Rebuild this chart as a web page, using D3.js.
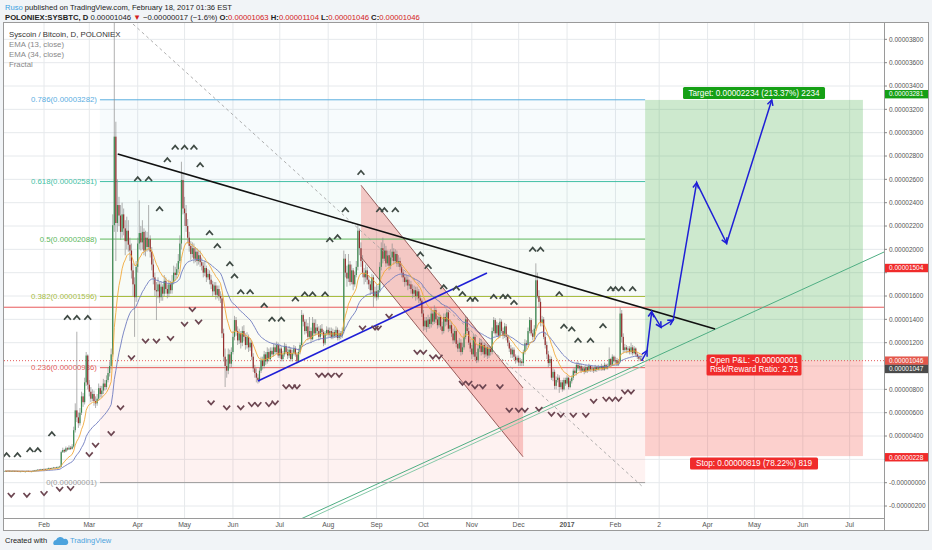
<!DOCTYPE html>
<html>
<head>
<meta charset="utf-8">
<title>SYSBTC</title>
<script src="https://cdnjs.cloudflare.com/ajax/libs/d3/7.8.5/d3.min.js"></script>
<style>
  html, body { margin: 0; padding: 0; background: #f1f4f7; }
  svg { display: block; font-family: "Liberation Sans", Arial, sans-serif; }
</style>
</head>
<body>
<div id="chart"></div>
<script>
// all prices in satoshi (1e-8 BTC), one daily candle per entry from 2016-01-07
const firstDay = Date.UTC(2016, 0, 7);

const closes = [100,98,102,97,99,101,96,100,98,95,
97,99,94,96,100,98,95,97,103,105,
108,112,110,115,113,118,116,120,124,122,
126,130,128,132,135,138,
262,
280,268,295,285,300,290,310,
450,620,
560,510,600,
740,690,860,1090,840,
780,720,760,700,680,720,810,760,
790,850,820,880,940,
1000,1100,
2207,2966,2226,
2380,2290,2150,2300,2180,2070,
2160,2040,1990,
1820,1700,1590,
1850,2050,2140,
2060,2150,1990,2100,2020,2090,1980,
1870,1760,1650,1640,
1700,1590,1680,1620,1730,1660,
1620,1700,1650,1720,1800,
1780,1830,1900,2050,
2594,2350,2310,
2200,2100,2030,
1960,2010,1920,1980,1900,1950,1890,
1860,1800,1840,1760,1790,1740,
1700,1640,1690,1610,1660,1600,1580,
1280,1080,1000,
960,1100,1020,1120,
1250,1394,1300,1220,1280,1200,
1300,1250,1180,1250,1160,1200,
1080,980,940,900,880,
960,1050,1000,1100,1040,1120,1060,1130,
1100,1160,1120,1180,1090,1150,1060,1100,1170,1120,
1090,1140,1060,1110,1150,1100,1040,1120,1180,
1437,1380,1300,
1340,1250,1300,1230,1370,1280,1330,1300,
1250,1320,1290,1195,1280,1310,1270,1300,
1250,1290,1260,1310,1240,1280,1260,1300,
1920,1800,1750,1870,
1720,1820,1700,1780,1850,
2160,2010,1900,
1800,1760,1820,1740,
1700,1650,1760,1600,1640,1590,1650,
1850,2010,1920,1990,
1880,1950,1860,1930,
1980,1900,1960,1880,1900,1850,
1800,1760,1720,1740,1690,1700,1660,
1620,1650,1600,1640,1580,1560,
1450,1340,1390,1335,1400,1360,
1450,1380,1480,1400,1350,1420,1340,
1300,1420,1380,1460,1320,1350,
1280,1220,1300,1190,1150,1200,1120,1160,
1250,1400,1300,1200,1150,
1100,1250,1080,1050,1150,1200,
1120,1180,1100,1160,1090,1150,1120,
1300,1394,1280,1350,1260,1380,
1300,1260,1340,1250,1200,1150,
1100,1140,1080,1050,1070,1030,1040,
1025,1120,1195,1180,
1300,1394,1280,1250,1320,
1735,1600,1550,1370,
1400,1250,1180,
1100,1025,1060,
900,950,830,880,900,820,
860,800,880,850,900,820,870,
900,960,940,1010,980,1000,
960,980,950,990,960,1000,970,
980,960,990,970,990,980,
1000,970,1010,980,1000,
1060,1010,1080,1040,1050,
1020,1040,1450,
1250,1137,1160,1140,
1150,1120,1160,1110,1150,
1100,1080,1063,1063,1046];

const highs = [104,103,105,104,102,104,103,103,102,101,
100,102,101,99,103,104,100,100,106,109,
112,116,115,119,118,122,121,125,130,127,
131,135,133,137,140,145,
275,
300,290,310,305,320,315,330,
480,680,
1294,600,640,
780,770,900,1120,1100,
880,820,800,790,740,760,850,830,
830,890,880,920,990,
1040,1150,
2300,3980,3094,
2600,2450,2380,2400,2350,2250,
2280,2250,2100,
2050,1880,1760,
1900,2100,2420,
2200,2250,2180,2160,2150,2380,2120,
2020,1920,1800,1720,
1760,1720,1720,1700,1780,1760,
1700,1740,1730,1780,1860,
1850,1880,1960,2120,
2751,2650,2450,
2380,2260,2150,
2070,2060,2050,2020,2010,1990,1990,
1930,1890,1900,1860,1830,1820,
1780,1730,1720,1720,1690,1690,1640,
1620,1320,1150,
1060,1150,1140,1160,
1300,1430,1420,1340,1320,1300,
1340,1350,1280,1290,1270,1240,
1220,1110,1010,980,930,
990,1080,1080,1130,1120,1160,1150,1160,
1160,1190,1190,1210,1200,1180,1170,1130,1200,1190,
1150,1170,1160,1140,1180,1170,1120,1150,1200,
1480,1450,1400,
1400,1370,1420,1330,1420,1400,1400,1360,
1340,1350,1360,1310,1300,1340,1330,1330,
1330,1320,1310,1340,1330,1310,1300,1330,
1990,1960,1860,1960,
1900,1870,1840,1810,1900,
2210,2180,2060,
1950,1840,1870,1850,
1780,1730,1790,1780,1680,1700,1690,
1890,2060,2100,2050,
2030,1990,1990,2000,
2050,2010,2000,1990,1950,1930,
1880,1830,1790,1780,1770,1740,1730,
1700,1690,1680,1680,1660,1610,
1580,1480,1420,1420,1440,1420,
1500,1480,1520,1500,1430,1460,1440,
1380,1450,1450,1490,1480,1400,
1380,1320,1340,1320,1220,1240,1230,1200,
1280,1430,1420,1330,1230,
1180,1280,1270,1120,1180,1240,
1230,1210,1200,1190,1180,1180,1170,
1330,1420,1410,1380,1370,1410,
1400,1330,1370,1360,1270,1220,
1180,1160,1160,1100,1090,1090,1070,
1060,1140,1230,1220,
1330,1420,1410,1310,1350,
1880,1800,1650,1580,
1430,1420,1290,
1210,1130,1090,
1080,980,970,910,930,920,
880,880,900,900,920,910,890,
920,980,990,1030,1040,1020,
1020,1000,1000,1010,1000,1020,1010,
1000,990,1010,1000,1010,1000,
1020,1010,1030,1020,1020,
1160,1070,1100,1090,1080,
1070,1060,1505,
1480,1280,1190,1180,
1170,1170,1200,1180,1170,
1160,1120,1100,1090,1104];

const lows = [97,95,96,95,95,97,94,95,96,92,
93,95,92,92,94,96,93,93,96,101,
103,105,107,108,110,111,113,114,118,118,
119,123,124,125,129,131,
135,
255,255,262,275,280,280,285,
300,430,
520,470,490,
580,650,670,830,800,
740,690,700,660,640,660,700,730,
730,760,790,800,860,
910,970,
1080,2150,1900,
2150,2200,2080,2100,2120,1950,
2000,1980,1900,
1750,1600,1250,
1550,1800,2000,
1990,2000,1950,1940,1980,1990,1930,
1820,1700,1600,1394,
1580,1540,1560,1560,1600,1620,
1580,1590,1620,1620,1700,
1730,1750,1800,1880,
2000,2300,2200,
2150,2050,1980,
1910,1930,1880,1890,1860,1870,1850,
1820,1760,1770,1720,1740,1700,
1660,1600,1610,1570,1580,1560,1540,
1240,1040,820,
900,930,980,990,
1100,1220,1260,1180,1190,1150,
1170,1210,1140,1150,1120,1130,
1050,950,900,860,850,
860,940,970,980,1010,1020,1040,1040,
1080,1080,1100,1100,1070,1070,1040,1040,1080,1100,
1060,1070,1040,1040,1090,1080,1020,1030,1100,
1160,1340,1270,
1280,1220,1230,1200,1220,1260,1260,1270,
1220,1230,1260,1170,1180,1260,1250,1250,
1230,1230,1240,1240,1220,1220,1230,1240,
1280,1760,1680,1720,
1690,1700,1650,1680,1760,
1820,1950,1850,
1760,1700,1720,1700,
1660,1610,1620,1505,1580,1560,1570,
1630,1820,1880,1900,
1850,1860,1820,1830,
1900,1870,1880,1850,1850,1820,
1760,1720,1680,1690,1650,1660,1620,
1580,1590,1560,1570,1540,1520,
1420,1300,1310,1290,1320,1320,
1330,1350,1360,1370,1320,1330,1310,
1270,1280,1340,1350,1290,1300,
1250,1190,1200,1160,1120,1120,1090,1100,
1140,1230,1280,1180,1120,
1060,1080,1050,1025,1030,1120,
1090,1100,1070,1080,1060,1070,1090,
1100,1280,1260,1250,1240,1240,
1280,1230,1240,1220,1170,1120,
1070,1070,1050,1020,1030,1000,1000,
1000,1000,1100,1140,
1160,1280,1260,1220,1230,
1300,1580,1500,1340,
1340,1230,1150,
1060,990,1000,
880,870,800,800,860,770,
800,780,790,830,840,800,810,
850,880,920,920,960,960,
940,950,930,940,940,950,950,
950,940,950,950,960,960,
960,960,960,970,970,
990,1000,1000,1020,1020,
1000,1000,1030,
1200,1110,1120,1110,
1110,1100,1100,1090,1100,
1080,1060,1040,1050,1046];

const priceTicks = [-200, 0, 200, 400, 600, 800, 1000, 1200, 1400, 1600, 1800, 2000,
  2200, 2400, 2600, 2800, 3000, 3200, 3400, 3600, 3800];
const monthTicks = ["2016-02-01", "2016-03-01", "2016-04-01", "2016-05-01", "2016-06-01", "2016-07-01",
  "2016-08-01", "2016-09-01", "2016-10-01", "2016-11-01", "2016-12-01", "2017-01-01", "2017-02-01",
  "2017-03-01", "2017-04-01", "2017-05-01", "2017-06-01", "2017-07-01"];
const monthLabels = ["Feb", "Mar", "Apr", "May", "Jun", "Jul", "Aug", "Sep", "Oct", "Nov", "Dec",
  "2017", "Feb", "2", "Apr", "May", "Jun", "Jul"];

const fibLevels = ["0", "0.236", "0.382", "0.5", "0.618", "0.786"];
const fibPrices = [1, 986, 1596, 2088, 2581, 3282];
const fibColors = ["#9e9e9e", "#e35d5b", "#a7bd3f", "#5cb85c", "#43bfa5", "#5aaedf"];
const fibSpan = [60.8, 410];              // day offsets

// fractal marks: [day offset, price]
const upFractals = [[1,237],[8,237],[16,280],[21,280],[30,417],[40,1414],[46,1414],[53,1414],
  [85,2603],[92,2603],[99,2346],[104,2766],[109,2873],[115,2873],[121,2873],[125,2723],[131,2140],
  [136,2029],[144,1874],[147,1771],[151,1634],[157,1634],[166,1519],[171,1400],[177,1400],[186,1572],
  [192,1615],[197,1615],[205,1615],[208,2080],[213,2106],[218,2337],[228,2657],[240,2337],[243,2337],
  [250,2337],[266,1958],[271,1851],[281,1677],[289,1666],[293,1617],[298,1570],[301,1570],[313,1594],
  [319,1594],[322,1594],[326,1543],[338,1999],[343,1999],[355,1617],[358,1339],[363,1315],[367,1219],
  [375,1219],[383,1343],[388,1660],[391,1660],[395,1660],[402,1660]];
const downFractals = [[4,-105],[14,-105],[25,-91],[35,-54],[42,-48],[54,243],[58,323],[68,423],
  [74,643],[81,1073],[90,1216],[97,1216],[106,1238],[115,1360],[120,1486],[124,1380],[132,686],
  [142,643],[151,643],[158,672],[162,672],[169,672],[173,686],[180,823],[184,823],[187,823],[201,923],
  [205,923],[209,923],[214,923],[229,1328],[237,1328],[239,1328],[246,1429],[264,1120],[268,1120],
  [274,1080],[278,1080],[293,855],[297,855],[301,825],[306,825],[317,825],[323,623],[329,623],[333,623],
  [342,632],[350,589],[356,580],[364,580],[372,580],[377,700],[385,717],[389,717],[393,717],[397,780],
  [401,780]];

// drawings: [day offset, price]
const blackTrend = [[72.2, 2817], [454.8, 1317]];
const blueTrend = [[162, 872], [308.7, 1797]];
const dashedTrend = [[82, 3931], [408.6, -37]];
const greenTrend = [[188, -320], [563, 1977]];
const greenTrend2 = [[188, -350], [410, 1010]];
const channelTop = [[228, 2550], [331.8, 812]];
const channelBottom = [[228, 1934], [331.8, 222]];
const forecastPath = [[407.8, 1043], [411.2, 1131], [414.2, 1466], [420.2, 1332], [428, 1394],
  [443, 2571], [462.2, 2052], [491.1, 3280]];

const resistance = 1504;
const lastPrice = 1046;
const position = { from: 410, to: 549.5, entry: 1047, target: 3281, stop: 228 };

const badgeValues = [3281, 1504, 1046, 1047, 228];
const badgeAt = [3330, 1840, 1046, 975, 218];
const badgeColors = ["#159f15", "#f02b2b", "#e4584c", "#4a4a4a", "#f02b2b"];

const width = 932;
const height = 550;
const plot = { left: 4, right: 884, top: 23, bottom: 518 };

const day = n => new Date(firstDay + n * 864e5);
const fmt = v => (v / 1e8).toFixed(8);
const parse = d3.utcParse("%Y-%m-%d");

const x = d3.scaleUtc().domain([day(0), day(563)]).range([5, 884]);
const y = d3.scaleLinear().domain([-302.6, 3931.6]).range([518, 24]);
const pt = d => [x(day(d[0])), y(d[1])];

const svg = d3.select("#chart")
    .append("svg")
    .attr("width", width)
    .attr("height", height);

svg.append("defs").append("clipPath").attr("id", "clip")
    .append("rect")
    .attr("x", plot.left).attr("y", plot.top)
    .attr("width", plot.right - plot.left).attr("height", plot.bottom - plot.top);

svg.append("rect").attr("x", 0).attr("y", 0).attr("width", width).attr("height", height).attr("fill", "#f1f4f7");
svg.append("rect")
    .attr("x", 3.5).attr("y", 22.5).attr("width", 925).attr("height", 508)
    .attr("fill", "#fff").attr("stroke", "#9a9a9a");

const chart = svg.append("g").attr("clip-path", "url(#clip)");

function drawGrid() {
    chart.selectAll("line.hgrid")
        .data(priceTicks)
        .join("line")
        .attr("class", "hgrid")
        .attr("x1", plot.left).attr("x2", plot.right)
        .attr("y1", d => y(d)).attr("y2", d => y(d))
        .attr("stroke", "#e6e9ec");
    chart.selectAll("line.vgrid")
        .data(monthTicks)
        .join("line")
        .attr("class", "vgrid")
        .attr("x1", d => x(parse(d))).attr("x2", d => x(parse(d)))
        .attr("y1", plot.top).attr("y2", plot.bottom)
        .attr("stroke", "#e6e9ec");
}

function drawFills() {
    const x0 = x(day(fibSpan[0]));
    const x1 = x(day(fibSpan[1]));
    for (let i = 0; i < fibPrices.length - 1; i++) {
        chart.append("rect")
            .attr("x", x0).attr("width", x1 - x0)
            .attr("y", y(fibPrices[i + 1]))
            .attr("height", y(fibPrices[i]) - y(fibPrices[i + 1]))
            .attr("fill", i === 0 ? "#f44336" : fibColors[i + 1])
            .attr("opacity", i === 0 ? 0.07 : 0.05);
    }

    const poly = [pt(channelTop[0]), pt(channelTop[1]), pt(channelBottom[1]), pt(channelBottom[0])];
    chart.append("path")
        .attr("d", d3.line()(poly) + "Z")
        .attr("fill", "rgba(239,83,80,0.3)");

    const px0 = x(day(position.from));
    const px1 = x(day(position.to));
    chart.append("rect")
        .attr("x", px0).attr("width", px1 - px0)
        .attr("y", y(position.target)).attr("height", y(position.entry) - y(position.target))
        .attr("fill", "rgba(76,175,80,0.28)");
    chart.append("rect")
        .attr("x", px0).attr("width", px1 - px0)
        .attr("y", y(position.entry)).attr("height", y(position.stop) - y(position.entry))
        .attr("fill", "rgba(244,67,54,0.25)");
}

function drawLevels() {
    const x0 = x(day(fibSpan[0]));
    const x1 = x(day(fibSpan[1]));
    fibPrices.forEach((p, i) => {
        chart.append("line")
            .attr("x1", x0).attr("x2", x1)
            .attr("y1", y(p)).attr("y2", y(p))
            .attr("stroke", fibColors[i]);
        chart.append("text")
            .attr("x", x0 - 3).attr("y", y(p) + 2.6)
            .attr("text-anchor", "end")
            .attr("font-size", 7.8)
            .attr("fill", fibColors[i])
            .text(fibLevels[i] + "(" + fmt(p) + ")");
    });

    chart.append("line")
        .attr("x1", plot.left).attr("x2", plot.right)
        .attr("y1", y(resistance)).attr("y2", y(resistance))
        .attr("stroke", "#e8595a");
    chart.append("line")
        .attr("x1", plot.left).attr("x2", plot.right)
        .attr("y1", y(lastPrice)).attr("y2", y(lastPrice))
        .attr("stroke", "#e45c5c").attr("stroke-dasharray", "1,2");
}

function ema(values, n) {
    const k = 2 / (n + 1);
    const out = [];
    values.forEach((v, i) => out.push(i === 0 ? v : v * k + out[i - 1] * (1 - k)));
    return out;
}

function drawCandles() {
    const candles = closes.map((c, i) => ({
        date: day(i),
        o: i === 0 ? c : closes[i - 1],
        h: highs[i], l: lows[i], c: c
    }));

    chart.selectAll("line.wick")
        .data(candles)
        .join("line")
        .attr("class", "wick")
        .attr("x1", d => x(d.date)).attr("x2", d => x(d.date))
        .attr("y1", d => y(d.h)).attr("y2", d => y(d.l))
        .attr("stroke", "#8e8e8e").attr("stroke-width", 0.7);

    chart.selectAll("rect.body")
        .data(candles)
        .join("rect")
        .attr("class", "body")
        .attr("x", d => x(d.date) - 0.6)
        .attr("width", 1.2)
        .attr("y", d => y(Math.max(d.o, d.c)))
        .attr("height", d => Math.max(0.8, Math.abs(y(d.o) - y(d.c))))
        .attr("fill", d => d.c >= d.o ? "#3a8a50" : "#962c2c");

    const line = d3.line().x((d, i) => x(day(i))).y(d => y(d));
    chart.append("path").attr("d", line(ema(closes, 34)))
        .attr("fill", "none").attr("stroke", "#6f7cc0").attr("stroke-width", 0.9);
    chart.append("path").attr("d", line(ema(closes, 13)))
        .attr("fill", "none").attr("stroke", "#f2a93b").attr("stroke-width", 0.9);
}

function segment(points, color, w, dash) {
    chart.append("path")
        .attr("d", d3.line()(points.map(pt)))
        .attr("fill", "none")
        .attr("stroke", color)
        .attr("stroke-width", w)
        .attr("stroke-dasharray", dash || null);
}

function drawDrawings() {
    segment(channelTop, "#7d3b3b", 0.8);
    segment(channelBottom, "#7d3b3b", 0.8);
    segment(dashedTrend, "#9a9a9a", 0.8, "3,3");
    segment(greenTrend2, "#86c9a8", 1);
    segment(greenTrend, "#4fae83", 1);
    segment(blackTrend, "#111", 1.6);
    segment(blueTrend, "#1f1fd6", 1.5);

    const pts = forecastPath.map(pt);
    chart.append("path")
        .attr("d", d3.line()(pts))
        .attr("fill", "none").attr("stroke", "#1f1fd6").attr("stroke-width", 1.5);
    for (let i = 1; i < pts.length; i++) {
        const p0 = pts[i - 1], p1 = pts[i];
        const a = Math.atan2(p1[1] - p0[1], p1[0] - p0[0]);
        const head = [
            [p1[0] - 6 * Math.cos(a - 0.5), p1[1] - 6 * Math.sin(a - 0.5)],
            p1,
            [p1[0] - 6 * Math.cos(a + 0.5), p1[1] - 6 * Math.sin(a + 0.5)]
        ];
        chart.append("path").attr("d", d3.line()(head))
            .attr("fill", "none").attr("stroke", "#1f1fd6").attr("stroke-width", 1.5);
    }
}

function drawFractals() {
    chart.selectAll("path.up")
        .data(upFractals)
        .join("path")
        .attr("class", "up")
        .attr("d", "M-3.4,2L0,-1.9L3.4,2")
        .attr("transform", d => `translate(${x(day(d[0]))},${y(d[1])})`)
        .attr("fill", "none").attr("stroke", "#3f4a44").attr("stroke-width", 1.7);
    chart.selectAll("path.down")
        .data(downFractals)
        .join("path")
        .attr("class", "down")
        .attr("d", "M-3.4,-2L0,1.9L3.4,-2")
        .attr("transform", d => `translate(${x(day(d[0]))},${y(d[1])})`)
        .attr("fill", "none").attr("stroke", "#6c4651").attr("stroke-width", 1.7);
}

function label(cx, cy, lines, fill, w) {
    const h = lines.length * 9 + 3;
    chart.append("rect")
        .attr("x", cx - w / 2).attr("y", cy - h / 2)
        .attr("width", w).attr("height", h)
        .attr("rx", 1.5).attr("fill", fill);
    lines.forEach((t, i) => {
        chart.append("text")
            .attr("x", cx).attr("y", cy - h / 2 + 8.6 + i * 9)
            .attr("text-anchor", "middle")
            .attr("font-size", 8.2).attr("fill", "#fff")
            .text(t);
    });
}

function drawPositionLabels() {
    const cx = (x(day(position.from)) + x(day(position.to))) / 2;
    const gain = position.target - position.entry;
    const risk = position.entry - position.stop;
    label(cx, y(position.target) - 7, [
        "Target: " + fmt(gain) + " (" + (gain / position.entry * 100).toFixed(2) + "%) " + gain
    ], "#15a015", 142);
    label(cx, y(position.stop) + 7.5, [
        "Stop: " + fmt(risk) + " (" + (risk / position.entry * 100).toFixed(2) + "%) " + risk
    ], "#f02b2b", 128);
    label(cx, y(position.entry) + 4.5, [
        "Open P&L: -" + fmt(position.entry - lastPrice),
        "Risk/Reward Ratio: " + (gain / risk).toFixed(2)
    ], "#f02b2b", 95);
}

function drawAxes() {
    svg.append("line")
        .attr("x1", plot.right + 0.5).attr("x2", plot.right + 0.5)
        .attr("y1", 22.5).attr("y2", 530.5).attr("stroke", "#9a9a9a");
    svg.append("line")
        .attr("x1", 3.5).attr("x2", plot.right + 0.5)
        .attr("y1", plot.bottom + 0.5).attr("y2", plot.bottom + 0.5).attr("stroke", "#9a9a9a");

    // tick labels hidden behind a badge are skipped, like the original
    const badgeY = badgeAt.map(v => y(v));
    const ticks = svg.append("g");
    priceTicks.forEach(v => {
        const ty = y(v);
        ticks.append("line")
            .attr("x1", plot.right).attr("x2", plot.right + 3)
            .attr("y1", ty).attr("y2", ty).attr("stroke", "#888");
        if (badgeY.some(b => Math.abs(b - ty) < 7.5)) return;
        ticks.append("text")
            .attr("x", plot.right + 5).attr("y", ty + 2.3)
            .attr("font-size", 6.5).attr("fill", "#555")
            .text((v <= 0 ? "-" : "") + fmt(Math.abs(v)));
    });

    badgeValues.forEach((v, i) => {
        const cy = badgeY[i];
        svg.append("rect")
            .attr("x", plot.right + 1).attr("y", cy - 4.2)
            .attr("width", 43).attr("height", 8.4)
            .attr("fill", badgeColors[i]);
        svg.append("text")
            .attr("x", plot.right + 5).attr("y", cy + 2.3)
            .attr("font-size", 6.5).attr("fill", "#fff")
            .text(fmt(v));
    });

    monthTicks.forEach((d, i) => {
        svg.append("text")
            .attr("x", x(parse(d))).attr("y", 526.5)
            .attr("text-anchor", "middle")
            .attr("font-size", 6.8)
            .attr("font-weight", monthLabels[i] === "2017" ? "bold" : null)
            .attr("fill", "#555")
            .text(monthLabels[i]);
    });
}

function drawHeader() {
    const t1 = svg.append("text").attr("x", 5).attr("y", 9.5).attr("font-size", 7.6);
    t1.append("tspan").attr("fill", "#3a9fe0").text("Ruso");
    t1.append("tspan").attr("fill", "#222").text(" published on TradingView.com, February 18, 2017 01:36 EST");

    const t2 = svg.append("text").attr("x", 5).attr("y", 20).attr("font-size", 7.7).attr("fill", "#222");
    t2.append("tspan").attr("font-weight", "bold").text("POLONIEX:SYSBTC, D");
    t2.append("tspan").text(" " + fmt(lastPrice) + " ");
    t2.append("tspan").attr("fill", "#d32020").text("▼");
    t2.append("tspan").text(" −0.00000017 (−1.6%) ");
    const ohlc = [["O:", 1063], [" H:", 1104], [" L:", 1046], [" C:", 1046]];
    ohlc.forEach(([k, v]) => {
        t2.append("tspan").attr("font-weight", "bold").text(k);
        t2.append("tspan").attr("fill", "#d32020").text(fmt(v));
    });

    const legend = ["Syscoin / Bitcoin, D, POLONIEX", "EMA (13, close)", "EMA (34, close)", "Fractal"];
    legend.forEach((t, i) => {
        svg.append("text")
            .attr("x", 9).attr("y", 37 + i * 10)
            .attr("font-size", 7.8)
            .attr("fill", i === 0 ? "#333" : "#888")
            .text(t);
    });

    svg.append("text").attr("x", 5).attr("y", 543).attr("font-size", 7.5).attr("fill", "#222").text("Created with");
    svg.append("path")
        .attr("d", "M54,545 a3,3 0 0,1 2,-5 a4.5,4.5 0 0,1 8,-1 a3,3 0 0,1 2,6 z")
        .attr("fill", "#4da3dd");
    svg.append("text").attr("x", 70).attr("y", 543).attr("font-size", 7.5).attr("fill", "#4da3dd").text("TradingView");
}

drawGrid();
drawFills();
drawLevels();
drawCandles();
drawDrawings();
drawFractals();
drawPositionLabels();
drawAxes();
drawHeader();
</script>
</body>
</html>
